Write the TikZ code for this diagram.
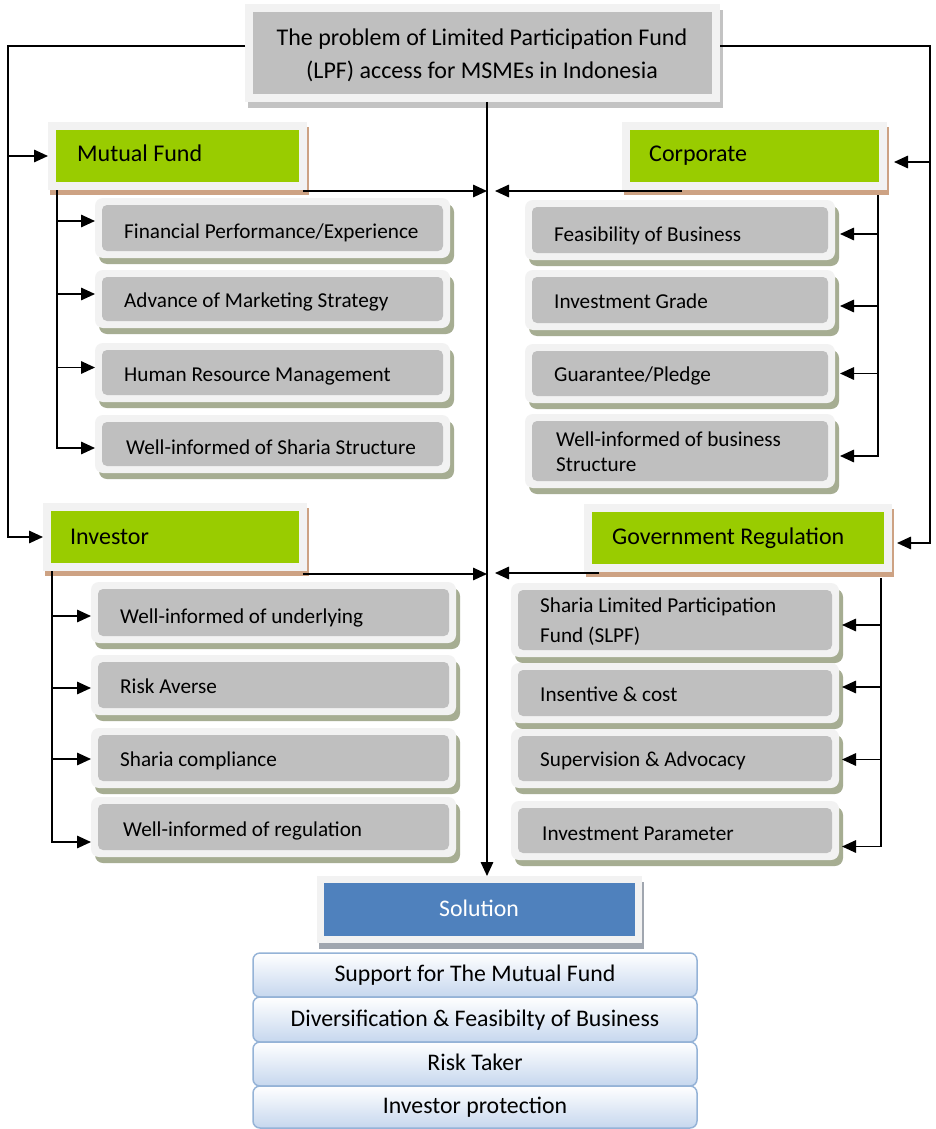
\documentclass[tikz,border=0pt]{standalone}
\usepackage{fontspec}
\setmainfont{Carlito}
\usetikzlibrary{arrows.meta,fit,calc}

\definecolor{framec}{HTML}{F2F2F2}
\definecolor{grayin}{HTML}{BFBFBF}
\definecolor{kidsh}{HTML}{A6AD92}
\definecolor{greenin}{HTML}{99CC00}
\definecolor{headsh}{HTML}{CDA283}
\definecolor{topsh}{HTML}{C3C3C3}
\definecolor{bluein}{HTML}{4F81BD}
\definecolor{solsh}{HTML}{A0A6AF}
\definecolor{sborder}{HTML}{95B3D7}
\definecolor{sbottom}{HTML}{C6D7EE}

% a framed panel: shadow, light frame (the named node) and inner fill
% #1 name, #2 kind, #3 x1, #4 y1, #5 x2, #6 y2, #7 inset
\newcommand\panel[7]{%
  \fill[#2shadow] (#3,#4) rectangle (#5,#6);
  \node[#2frame, fit={(#3,#4) (#5,#6)}, inner sep=0pt, outer sep=0pt] (#1) {};
  \fill[#2inner] (#3+#7,#4+#7) rectangle (#5-#7,#6-#7);
}

\tikzset{
  line/.style={line width=1.6pt, black},
  arr/.style={line, -{Triangle[length=14pt,width=12.5pt]}},
  topbshadow/.style={fill=topsh, shift={(3,6)}},
  topbframe/.style={fill=framec},
  topbinner/.style={fill=grayin},
  headshadow/.style={fill=headsh, shift={(2,5)}},
  headframe/.style={fill=framec},
  headinner/.style={fill=greenin},
  kidshadow/.style={fill=kidsh, rounded corners=8pt, shift={(4,6)}},
  kidframe/.style={fill=framec, rounded corners=8pt},
  kidinner/.style={fill=grayin, rounded corners=5pt},
  solbshadow/.style={fill=solsh, shift={(2,6)}},
  solbframe/.style={fill=framec},
  solbinner/.style={fill=bluein},
  sbox/.style={draw=sborder, line width=1.5pt, rounded corners=7pt,
    top color=white, bottom color=sbottom, inner sep=0pt, outer sep=0pt},
  kidtext/.style={anchor=west, inner sep=0pt, text height=15pt, text depth=0pt,
    font=\fontsize{21.2}{25}\selectfont},
  headtext/.style={anchor=west, inner sep=0pt, text height=17pt, text depth=3pt,
    font=\fontsize{24}{28}\selectfont},
  soltext/.style={inner sep=0pt, text height=16pt, text depth=3pt,
    font=\fontsize{23.8}{28}\selectfont},
}

\begin{document}
\begin{tikzpicture}[x=1pt,y=-1pt]
\fill[white] (0,0) rectangle (935,1129);
\useasboundingbox (0,0) rectangle (935,1129);

% ---- title panel
\panel{top}{topb}{245}{4}{720}{102}{8}
\node[align=center, inner sep=0pt, font=\fontsize{24}{33}\selectfont] (toptext) at (482,55)
  {The problem of Limited Participation Fund\\(LPF) access for MSMEs in Indonesia};

% ---- four headings
\panel{mf}{head}{48}{122}{307}{190}{8}
\node[headtext] at (77,154) {Mutual Fund};
\panel{corp}{head}{622}{122}{887}{190}{8}
\node[headtext] at (649,154) {Corporate};
\panel{inv}{head}{43}{503}{307}{571}{8}
\node[headtext] at (70,537) {Investor};
\panel{gov}{head}{584}{504}{892}{572}{8}
\node[headtext] at (612,537) {Government Regulation};

% ---- Mutual Fund items
\panel{mf1}{kid}{95}{198}{450}{258}{7}
\node[kidtext] at (124,231) {Financial Performance/Experience};
\panel{mf2}{kid}{95}{270}{450}{328}{7}
\node[kidtext] at (124,300) {Advance of Marketing Strategy};
\panel{mf3}{kid}{95}{343}{450}{402}{7}
\node[kidtext] at (124,374) {Human Resource Management};
\panel{mf4}{kid}{95}{415}{450}{473}{7}
\node[kidtext] at (126,447) {Well-informed of Sharia Structure};

% ---- Corporate items
\panel{c1}{kid}{525}{200}{835}{260}{7}
\node[kidtext] at (554,234) {Feasibility of Business};
\panel{c2}{kid}{525}{270}{835}{330}{7}
\node[kidtext] at (554,301) {Investment Grade};
\panel{c3}{kid}{525}{344}{835}{403}{7}
\node[kidtext] at (554,374) {Guarantee/Pledge};
\panel{c4}{kid}{525}{414}{835}{488}{7}
\node[kidtext, align=left, text height=, text depth=] at (556,452) {Well-informed of business\\Structure};

% ---- Investor items
\panel{i1}{kid}{91}{582}{456}{643}{7}
\node[kidtext] at (120,616) {Well-informed of underlying};
\panel{i2}{kid}{91}{655}{456}{715}{7}
\node[kidtext] at (120,686) {Risk Averse};
\panel{i3}{kid}{91}{728}{456}{788}{7}
\node[kidtext] at (120,759) {Sharia compliance};
\panel{i4}{kid}{91}{797}{456}{857}{7}
\node[kidtext] at (123,829) {Well-informed of regulation};

% ---- Government Regulation items
\panel{g1}{kid}{511}{583}{839}{657}{7}
\node[kidtext, align=left, text height=, text depth=, font=\fontsize{21.2}{30}\selectfont] at (540,622) {Sharia Limited Participation\\Fund (SLPF)};
\panel{g2}{kid}{511}{663}{839}{723}{7}
\node[kidtext] at (540,694) {Insentive \& cost};
\panel{g3}{kid}{511}{729}{839}{788}{7}
\node[kidtext] at (540,759) {Supervision \& Advocacy};
\panel{g4}{kid}{511}{801}{839}{860}{7}
\node[kidtext] at (542,833) {Investment Parameter};

% ---- solution
\panel{sol}{solb}{317}{876}{642}{943}{7}
\node[soltext, text=white] at (479,910) {Solution};
\node[sbox, fit={(253,953) (697,997)}] (s1) {};
\node[sbox, fit={(253,997) (697,1042)}] (s2) {};
\node[sbox, fit={(253,1042) (697,1086)}] (s3) {};
\node[sbox, fit={(253,1086) (697,1128)}] (s4) {};
\node[soltext] at (s1.center) {Support for The Mutual Fund};
\node[soltext] at (s2.center) {Diversification \& Feasibilty of Business};
\node[soltext] at (s3.center) {Risk Taker};
\node[soltext] at (s4.center) {Investor protection};

% ---- buses from the title
\coordinate (lx) at (8,0);
\coordinate (rx) at (930,0);
\coordinate (sx) at (487,0);
\coordinate (cin) at ([shift={(7pt,-6pt)}]corp.east);
\coordinate (gin) at ([shift={(5pt,-5pt)}]gov.east);
\draw[arr] ([yshift=7pt]top.west) -| (lx |- inv.west) -- (inv.west);
\draw[arr] (lx |- mf.west) -- (mf.west);
\draw[arr] ([yshift=7pt]top.east) -| (rx |- gin) -- (gin);
\draw[arr] (rx |- cin) -- (cin);
\draw[arr] (sx |- top.south) -- (sx |- sol.north);

% ---- headings into the spine
\coordinate (mfo) at ([shift={(-4pt,-1pt)}]mf.south east);
\coordinate (co) at ([shift={(60pt,-1pt)}]corp.south west);
\coordinate (io) at ([shift={(-4pt,-3pt)}]inv.south east);
\coordinate (go) at ([shift={(15pt,-1pt)}]gov.south west);
\draw[arr] (mfo) -- (mfo -| sx);
\draw[arr] (co) -- ([xshift=8pt]co -| sx);
\draw[arr] (io) -- (io -| sx);
\draw[arr] (go) -- ([xshift=8pt]go -| sx);

% ---- Mutual Fund branch
\coordinate (mft) at ([xshift=9pt]mf.south west);
\coordinate (a1) at ([yshift=7pt]mf1.west);
\coordinate (a2) at ([yshift=5pt]mf2.west);
\coordinate (a3) at ([yshift=5pt]mf3.west);
\coordinate (a4) at ([yshift=-4pt]mf4.west);
\draw[arr] (mft) |- (a4);
\foreach \t in {a1,a2,a3} \draw[arr] (mft |- \t) -- (\t);

% ---- Corporate branch
\coordinate (ct) at ([shift={(-9pt,-5pt)}]corp.south east);
\coordinate (b1) at ([shift={(5pt,-4pt)}]c1.east);
\coordinate (b2) at ([shift={(5pt,-6pt)}]c2.east);
\coordinate (b3) at ([shift={(5pt,0pt)}]c3.east);
\coordinate (b4) at ([shift={(5pt,-5pt)}]c4.east);
\draw[arr] (ct) |- (b4);
\foreach \t in {b1,b2,b3} \draw[arr] (ct |- \t) -- (\t);

% ---- Investor branch
\coordinate (it) at ([xshift=9pt]inv.south west);
\coordinate (d1) at ([yshift=-3.5pt]i1.west);
\coordinate (d2) at ([yshift=-3pt]i2.west);
\coordinate (d3) at ([yshift=-1pt]i3.west);
\coordinate (d4) at ([yshift=-15pt]i4.west);
\draw[arr] (it) |- (d4);
\foreach \t in {d1,d2,d3} \draw[arr] (it |- \t) -- (\t);

% ---- Government Regulation branch
\coordinate (gt) at ([shift={(-11pt,-6pt)}]gov.south east);
\coordinate (e1) at ([shift={(3pt,-5pt)}]g1.east);
\coordinate (e2) at ([shift={(3pt,6pt)}]g2.east);
\coordinate (e3) at ([shift={(3pt,-1pt)}]g3.east);
\coordinate (e4) at ([shift={(3pt,-16pt)}]g4.east);
\draw[arr] (gt) |- (e4);
\foreach \t in {e1,e2,e3} \draw[arr] (gt |- \t) -- (\t);
\end{tikzpicture}
\end{document}
